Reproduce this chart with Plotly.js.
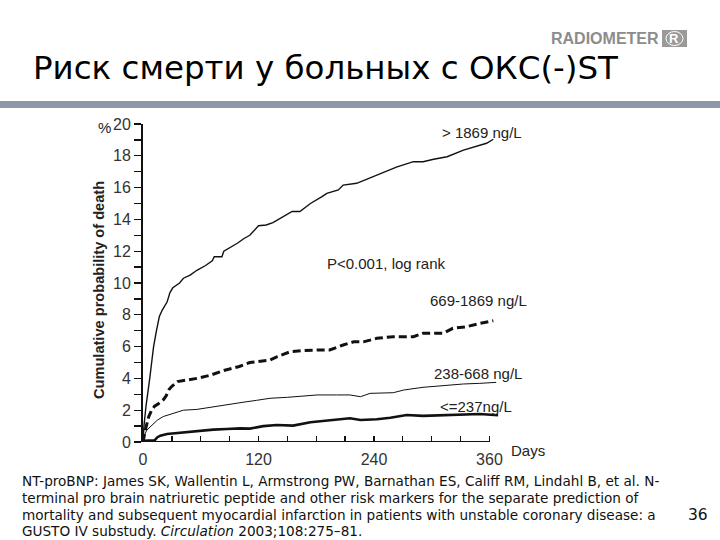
<!DOCTYPE html>
<html>
<head>
<meta charset="utf-8">
<script src="https://cdn.plot.ly/plotly-3.0.1.min.js"></script>
<style>html,body{margin:0;padding:0;background:#fff;}#chart{width:720px;height:540px;}</style>
</head>
<body>
<div id="chart"></div>
<script>
// ---- data ----
const daysTop = [0,1,3,5,7,9,11,14,17,20,25,28,31,38,42,49,56,65,72,74,82,84,90,98,105,111,120,128,135,146,155,163,174,186,191,203,208,222,239,253,264,281,291,302,316,333,347,357,364];
const valsTop = [0,1.0,2.2,3.0,4.0,5.0,6.0,7.0,7.9,8.3,8.8,9.4,9.7,10.0,10.3,10.5,10.8,11.1,11.4,11.65,11.65,12.0,12.2,12.5,12.8,13.0,13.6,13.65,13.8,14.17,14.5,14.5,15.0,15.43,15.64,15.85,16.16,16.27,16.69,17.0,17.3,17.63,17.63,17.78,17.94,18.36,18.6,18.79,19.04];

const daysHigh = [0,1,3,6,9,12,16,21,24,27,30,36,42,56,70,84,100,111,132,139,153,165,181,194,208,219,229,243,260,281,291,312,322,336,350,364];
const valsHigh = [0,0.4,0.9,1.6,2.0,2.25,2.4,2.65,2.9,3.3,3.5,3.8,3.85,4.0,4.2,4.5,4.75,5.0,5.16,5.36,5.68,5.75,5.79,5.79,6.1,6.3,6.3,6.52,6.62,6.62,6.84,6.84,7.15,7.25,7.46,7.63];

const daysMid = [0,2,4,8,11,15,21,28,35,42,56,73,91,104,118,132,150,167,181,201,215,226,236,260,271,291,316,333,350,367];
const valsMid = [0,0.5,0.75,1.0,1.18,1.38,1.6,1.75,1.9,2.0,2.05,2.22,2.4,2.5,2.62,2.75,2.81,2.89,2.96,2.96,2.96,2.85,3.06,3.1,3.27,3.44,3.58,3.65,3.69,3.75];

const daysLow = [0,7,12,15,18,25,42,56,73,87,101,111,125,139,156,174,201,215,226,243,257,274,291,316,333,350,369];
const valsLow = [0.08,0.08,0.1,0.3,0.4,0.5,0.6,0.69,0.78,0.82,0.86,0.84,1.0,1.07,1.03,1.24,1.43,1.49,1.38,1.43,1.53,1.7,1.64,1.7,1.74,1.76,1.68];

const seriesLabels = ["> 1869 ng/L", "669-1869 ng/L", "238-668 ng/L", "<=237ng/L"];
const xTickVals = [0,30,60,90,120,150,180,210,240,270,300,330,360];
const xTickText = ["0","","","","120","","","","240","","","","360"];
const yTickVals = [0,1,2,3,4,5,6,7,8,9,10,11,12,13,14,15,16,17,18,19,20];
const yTickText = ["0","","2","","4","","6","","8","","10","","12","","14","","16","","18","","20"];

const titleText = "Риск смерти у больных с ОКС(-)ST";
const yTitle = "Cumulative probability of death";
const pText = "P<0.001, log rank";
const footLines = [
  "NT-proBNP: James SK, Wallentin L, Armstrong PW, Barnathan ES, Califf RM, Lindahl B, et al. N-",
  "terminal pro brain natriuretic peptide and other risk markers for the separate prediction of",
  "mortality and subsequent myocardial infarction in patients with unstable coronary disease: a",
  "GUSTO IV substudy. <i>Circulation</i> 2003;108:275–81."
];

// ---- geometry ----
const L = 143, T = 124, W = 358, H = 318;
const px = v => (v - L) / W;
const py = v => (T + H - v) / H;

const traces = [
  {x: daysTop, y: valsTop, mode: 'lines', line: {color: '#111', width: 1.4}},
  {x: daysHigh, y: valsHigh, mode: 'lines', line: {color: '#111', width: 3, dash: '8px,4px'}},
  {x: daysMid, y: valsMid, mode: 'lines', line: {color: '#111', width: 1}},
  {x: daysLow, y: valsLow, mode: 'lines', line: {color: '#111', width: 2.6}}
];

const lab = {family: 'Liberation Sans, Arial, sans-serif', size: 15, color: '#222'};
function ann(text, x, y, font, extra) {
  return Object.assign({text: text, xref: 'paper', yref: 'paper', x: px(x), y: py(y),
    xanchor: 'left', yanchor: 'middle', showarrow: false, font: font}, extra || {});
}
const footFont = {family: 'DejaVu Sans, sans-serif', size: 13.6, color: '#111'};

const annotations = [
  ann(titleText, 31, 68, {family: 'DejaVu Sans, sans-serif', size: 32.5, color: '#000'}),
  ann("RADIOMETER", 549, 39, {family: 'Liberation Sans, Arial, sans-serif', size: 16, color: '#8c8c8c', weight: 'bold'}),
  ann("R", 667, 39, {family: 'Liberation Sans, Arial, sans-serif', size: 13, color: '#fff', weight: 'bold'}),
  ann(yTitle, 99, 290, {family: 'Liberation Sans, Arial, sans-serif', size: 14.6, color: '#222', weight: 'bold'}, {xanchor: 'center', textangle: -90}),
  ann("%", 104, 127, lab, {xanchor: 'center'}),
  ann(seriesLabels[0], 440, 132, lab),
  ann(pText, 325, 263, lab),
  ann(seriesLabels[1], 428, 300, lab),
  ann(seriesLabels[2], 432, 373, lab),
  ann(seriesLabels[3], 438, 406, lab),
  ann("Days", 509, 450, lab),
  ann(footLines[0], 20, 481, footFont),
  ann(footLines[1], 20, 498, footFont),
  ann(footLines[2], 20, 515, footFont),
  ann(footLines[3], 20, 531, footFont),
  ann("36", 686, 515, {family: 'DejaVu Sans, sans-serif', size: 15.5, color: '#111'})
];

const shapes = [
  {type: 'rect', xref: 'paper', yref: 'paper', x0: px(0), x1: px(720), y0: py(101), y1: py(108), fillcolor: '#8c98a8', line: {width: 0}},
  {type: 'rect', xref: 'paper', yref: 'paper', x0: px(662), x1: px(687), y0: py(30), y1: py(47), fillcolor: '#9a9a9a', line: {width: 0}},
  {type: 'circle', xref: 'paper', yref: 'paper', x0: px(666), x1: px(683), y0: py(31.5), y1: py(45.5), line: {width: 1, color: '#fff'}},
  {type: 'line', xref: 'x', yref: 'y', x0: 0, x1: 360, y0: 0, y1: 0, line: {color: '#111', width: 2}, layer: 'above'}
];

const layout = {
  width: 720, height: 540,
  margin: {l: L, r: 720 - L - W, t: T, b: 540 - T - H, autoexpand: false},
  paper_bgcolor: '#fff', plot_bgcolor: '#fff',
  showlegend: false,
  xaxis: {range: [0, 372], showline: false, showgrid: false, zeroline: false,
    tickmode: 'array', tickvals: xTickVals, ticktext: xTickText,
    ticks: 'inside', ticklen: 6, tickwidth: 1.3, tickcolor: '#111', ticklabelstandoff: 6,
    tickfont: {family: 'Liberation Sans, Arial, sans-serif', size: 16, color: '#333'}, fixedrange: true},
  yaxis: {range: [0, 20], showline: true, linecolor: '#111', linewidth: 2, showgrid: false, zeroline: false,
    tickmode: 'array', tickvals: yTickVals, ticktext: yTickText,
    ticks: 'outside', ticklen: 7, tickwidth: 1.3, tickcolor: '#111',
    tickfont: {family: 'Liberation Sans, Arial, sans-serif', size: 16, color: '#333'}, fixedrange: true},
  annotations: annotations,
  shapes: shapes
};

Plotly.newPlot('chart', traces, layout, {displayModeBar: false, staticPlot: true});
</script>
</body>
</html>
